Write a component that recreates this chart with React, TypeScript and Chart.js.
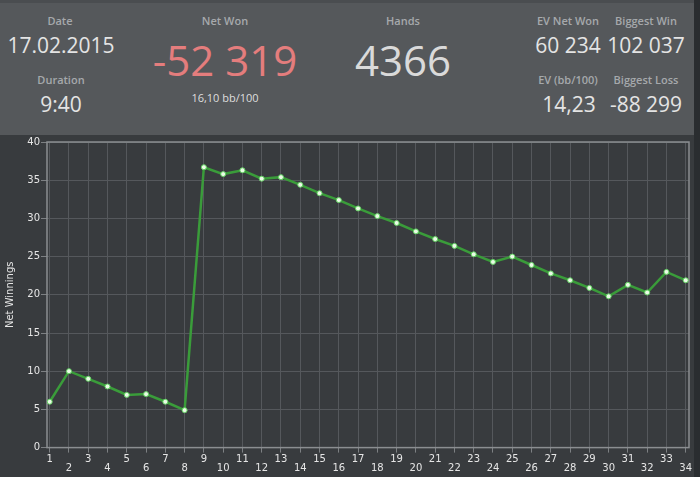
import React, { useEffect, useRef } from 'react';
import { Chart, registerables } from 'chart.js';

Chart.register(...registerables);

// ---- data ----
const hands = [
  1, 2, 3, 4, 5, 6, 7, 8, 9, 10, 11, 12, 13, 14, 15, 16, 17,
  18, 19, 20, 21, 22, 23, 24, 25, 26, 27, 28, 29, 30, 31, 32, 33, 34,
];
const netWinnings = [
  6, 10, 9, 8, 6.9, 7, 6, 4.9, 36.7, 35.8, 36.3, 35.2, 35.4, 34.4, 33.3, 32.4, 31.3,
  30.3, 29.4, 28.3, 27.3, 26.4, 25.3, 24.3, 25.0, 23.9, 22.8, 21.9, 20.9, 19.8, 21.3, 20.3, 23.0, 21.9,
];
const yTickValues = [0, 5, 10, 15, 20, 25, 30, 35, 40];
const yAxisTitle = 'Net Winnings';

// header stats
const statLabels = ['Date', 'Duration', 'Net Won', 'Hands', 'EV Net Won', 'Biggest Win', 'EV (bb/100)', 'Biggest Loss'];
const statValues = ['17.02.2015', '9:40', '-52 319', '4366', '60 234', '102 037', '14,23', '-88 299'];
const netWonSub = '16,10 bb/100';

const tickFont = { family: 'DejaVu Sans', size: 10, lineHeight: 0.95 };
const textColor = '#e6e6e6';

const framePlugin = {
  id: 'frame',
  beforeDatasetsDraw(chart: any) {
    const { ctx, chartArea } = chart;
    const { left, top, right, bottom } = chartArea;
    ctx.save();
    ctx.strokeStyle = '#8b8e91';
    ctx.lineWidth = 1.5;
    ctx.strokeRect(left, top, right - left, bottom - top);
    ctx.restore();
  },
};

function Label({ x, y, text }: { x: number; y: number; text: string }) {
  return (
    <div
      style={{
        position: 'absolute',
        left: x,
        top: y,
        transform: 'translate(-50%, -50%)',
        whiteSpace: 'nowrap',
        fontFamily: '"Open Sans", sans-serif',
        fontWeight: 600,
        fontSize: 11,
        lineHeight: 1,
        color: '#a6a9ac',
      }}
    >
      {text}
    </div>
  );
}

function Value({ x, y, text, size, color }: { x: number; y: number; text: string; size: number; color?: string }) {
  return (
    <div
      style={{
        position: 'absolute',
        left: x,
        top: y,
        transform: 'translate(-50%, -50%)',
        whiteSpace: 'nowrap',
        fontFamily: '"Open Sans", sans-serif',
        fontSize: size,
        lineHeight: 1,
        color: color || '#e4e4e4',
      }}
    >
      {text}
    </div>
  );
}

export default function App() {
  const canvasRef = useRef<HTMLCanvasElement | null>(null);

  useEffect(() => {
    const canvas = canvasRef.current;
    if (!canvas) return;
    const chart = new Chart(canvas, {
      type: 'line',
      data: {
        datasets: [
          {
            data: hands.map((h, i) => ({ x: h, y: netWinnings[i] })),
            borderColor: '#3a9c3a',
            borderWidth: 2.5,
            pointRadius: 2.5,
            pointBackgroundColor: '#eafce6',
            pointBorderColor: '#62d062',
            pointBorderWidth: 1,
            tension: 0,
          },
        ],
      },
      options: {
        responsive: false,
        animation: false,
        layout: { padding: { top: 7, right: 5, left: 0, bottom: 0 } },
        plugins: { legend: { display: false }, tooltip: { enabled: false } },
        scales: {
          x: {
            type: 'linear',
            min: 0.86,
            max: 34.17,
            afterBuildTicks: (s: any) => {
              s.ticks = hands.map((v) => ({ value: v }));
            },
            afterFit: (s: any) => {
              s.height = 29.4;
              s.paddingLeft = 0;
              s.paddingRight = 0;
            },
            ticks: {
              autoSkip: false,
              maxRotation: 0,
              minRotation: 0,
              padding: 2,
              color: textColor,
              font: tickFont,
              callback: (v: any) => (Number(v) % 2 === 1 ? [String(v)] : ['', String(v)]),
            },
            grid: { color: '#55585c', tickColor: '#7d8083', tickLength: 5, lineWidth: 1 },
            border: { display: false },
          },
          y: {
            type: 'linear',
            min: 0,
            max: 40,
            afterBuildTicks: (s: any) => {
              s.ticks = yTickValues.map((v) => ({ value: v }));
            },
            afterFit: (s: any) => {
              s.width = 47;
              s.paddingTop = 0;
              s.paddingBottom = 0;
            },
            ticks: { padding: 1, color: textColor, font: tickFont },
            grid: { color: '#55585c', tickColor: '#7d8083', tickLength: 6, lineWidth: 1 },
            border: { display: false },
            title: {
              display: true,
              text: yAxisTitle,
              color: textColor,
              font: { family: 'DejaVu Sans', size: 10, lineHeight: 1.2 },
              padding: { top: 4, bottom: 4 },
            },
          },
        },
      },
      plugins: [framePlugin],
    } as any);
    return () => chart.destroy();
  }, []);

  return (
    <div
      style={{
        position: 'fixed',
        left: 0,
        top: 0,
        width: 700,
        height: 477,
        background: '#2a2d30',
        overflow: 'hidden',
      }}
    >
      <div
        style={{
          position: 'absolute',
          left: 0,
          top: 0,
          width: 694,
          height: 135,
          background: '#55585b',
          borderTop: '3px solid #4a4d50',
          boxSizing: 'border-box',
        }}
      />
      <Label x={60} y={20} text={statLabels[0]} />
      <Value x={61} y={45} text={statValues[0]} size={21} />
      <Label x={61} y={79} text={statLabels[1]} />
      <Value x={61} y={104} text={statValues[1]} size={21} />
      <Label x={225} y={20} text={statLabels[2]} />
      <Value x={225} y={60} text={statValues[2]} size={42} color="#e47d7d" />
      <Value x={225} y={97} text={netWonSub} size={11} color="#dedede" />
      <Label x={403} y={20} text={statLabels[3]} />
      <Value x={403} y={60} text={statValues[3]} size={42} color="#dadada" />
      <Label x={568} y={20} text={statLabels[4]} />
      <Value x={568} y={45} text={statValues[4]} size={21} />
      <Label x={646} y={20} text={statLabels[5]} />
      <Value x={646} y={45} text={statValues[5]} size={21} />
      <Label x={568} y={79} text={statLabels[6]} />
      <Value x={569} y={104} text={statValues[6]} size={21} />
      <Label x={646} y={79} text={statLabels[7]} />
      <Value x={646} y={104} text={statValues[7]} size={21} />
      <div
        style={{
          position: 'absolute',
          left: 0,
          top: 135,
          width: 694,
          height: 342,
          background: '#383b3e',
        }}
      >
        <canvas ref={canvasRef} width={694} height={342} style={{ display: 'block', width: 694, height: 342 }} />
      </div>
    </div>
  );
}
